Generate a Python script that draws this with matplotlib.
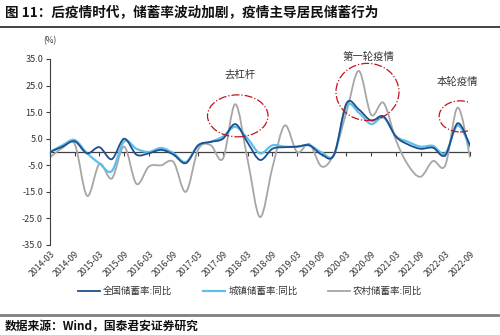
import numpy as np
import matplotlib
matplotlib.use('Agg')
import matplotlib.pyplot as plt
from matplotlib.path import Path
from matplotlib.patches import PathPatch, Ellipse
from matplotlib.lines import Line2D

plt.rcParams['font.family'] = ['Noto Sans CJK SC', 'DejaVu Sans']

# quarterly, 2014-03 .. 2022-09
quarters = ['%d-%02d' % (y, m) for y in range(2014, 2023) for m in (3, 6, 9, 12)][:35]

national = [0, 2, 4, -0.5, 1.8, -2.7, 5, -1, -0.5, 0.8, -1, -4.2, 2.5, 3.8, 5, 10.5,
            3.5, -3, 1.2, 1.8, 2, 2.5, -1, -1, 18.3, 16, 11.8, 13.4, 5.8, 2.8, 1.2, 1.6,
            -1.2, 10.8, 2.5]
urban = [0, 2.5, 4.5, -0.5, -4.3, -7.2, 4, 1.2, 0, 1.5, -0.5, -3.8, 2.5, 3.8, 5.8, 9.5,
         5, -0.5, 2.5, 2, 2, 2.5, -0.2, -1, 17.3, 14.8, 10.5, 13, 6, 3.8, 2, 2.3,
         -0.5, 10, 2]
rural = [-2, 1.5, 3, -16.5, -4.5, -10, 2, -12, -5.5, -5, -3.8, -15, 1, 2.6, -2.5, 18,
         -3, -24.5, -6, 10, 0, 3, -5.5, -0.5, 15, 30.5, 14, 18.5, 4.5, -5, -9.3, -3.4,
         -5, 16.7, -2]

series_names = ['全国储蓄率:同比', '城镇储蓄率:同比', '农村储蓄率:同比']
colors = ['#1F4E8C', '#5BC0EB', '#A6A6A6']


def smooth_path(xs, ys, t=1 / 6):
    # Catmull-Rom style bezier through the points (like Excel smoothed lines)
    pts = np.column_stack([xs, ys]).astype(float)
    n = len(pts)
    verts = [pts[0]]
    codes = [Path.MOVETO]
    for i in range(n - 1):
        p0 = pts[i - 1] if i > 0 else pts[i]
        p1 = pts[i]
        p2 = pts[i + 1]
        p3 = pts[i + 2] if i + 2 < n else pts[i + 1]
        verts += [p1 + (p2 - p0) * t, p2 - (p3 - p1) * t, p2]
        codes += [Path.CURVE4] * 3
    return Path(verts, codes)


fig = plt.figure(figsize=(5, 3.35), dpi=100)
ax = fig.add_axes([0.1, 0.2687, 0.84, 0.5552])

x = np.arange(len(quarters))
data = [national, urban, rural]
widths = [1.3, 1.6, 1.3]
for vals, c, lw, z in zip(data[::-1], colors[::-1], widths[::-1], [2, 3, 4]):
    ax.add_patch(PathPatch(smooth_path(x, vals), fill=False, edgecolor=c, lw=lw,
                           zorder=z, capstyle='round', joinstyle='round'))

ax.set_xlim(0, len(quarters) - 1)
ax.set_ylim(-35, 35)
ax.set_yticks(range(-35, 36, 10))
ax.set_yticklabels(['%.1f' % v for v in range(-35, 36, 10)], fontsize=6.5, color='#333333')
ax.tick_params(axis='y', length=3, width=0.8, color='#404040', pad=2)

for s in ['top', 'right']:
    ax.spines[s].set_visible(False)
ax.spines['left'].set_color('#404040')
ax.spines['left'].set_linewidth(0.8)
ax.spines['bottom'].set_position(('data', 0))
ax.spines['bottom'].set_color('#404040')
ax.spines['bottom'].set_linewidth(0.9)
ax.spines['bottom'].set_zorder(1)

ticks = x[::2]
ax.set_xticks(ticks)
ax.tick_params(axis='x', length=3, width=0.8, color='#404040', labelbottom=False)

sec = ax.secondary_xaxis(0)
sec.set_xticks(ticks)
sec.set_xticklabels(quarters[::2], rotation=45, ha='right', rotation_mode='anchor',
                    fontsize=6.3, color='#333333')
sec.tick_params(length=0, pad=3)
sec.spines['bottom'].set_visible(False)

# annotations
ell_kw = dict(fill=False, edgecolor='#C0141E', lw=0.9, linestyle='-.', zorder=6)
ax.add_patch(Ellipse((15.2, 13.6), 4.9, 15.8, **ell_kw))
ax.add_patch(Ellipse((25.7, 22.6), 5.1, 21.5, **ell_kw))
ax.add_patch(Ellipse((33.2, 13.4), 3.4, 11.7, **ell_kw))
ax.text(15.4, 29, '去杠杆', ha='center', va='center', fontsize=7.5, color='#333333')
ax.text(25.8, 35.8, '第一轮疫情', ha='center', va='center', fontsize=7.5, color='#333333')
ax.text(33.0, 26.4, '本轮疫情', ha='center', va='center', fontsize=7.5, color='#333333')

handles = [Line2D([], [], color=c, lw=lw) for c, lw in zip(colors, widths)]
fig.legend(handles, series_names, loc='center', bbox_to_anchor=(0.5, 0.131), ncol=3,
           frameon=False, fontsize=6.8, handlelength=2.4, columnspacing=3.2,
           handletextpad=0.3, labelcolor='#333333')

fig.text(0.1, 0.878, '(%)', ha='center', va='center', fontsize=6, color='#333333')
fig.text(0.01, 1 - 12 / 335, '图 11：后疫情时代，储蓄率波动加剧，疫情主导居民储蓄行为',
         ha='left', va='center', fontsize=9.8, fontweight='bold', color='#111111')
fig.add_artist(Line2D([0, 1], [1 - 27 / 335] * 2, transform=fig.transFigure,
                      color='#222222', lw=1.2))
fig.add_artist(Line2D([0, 0.995], [1 - 315 / 335] * 2, transform=fig.transFigure,
                      color='#808080', lw=2))
fig.text(0.01, 1 - 327 / 335, '数据来源：Wind，国泰君安证券研究', ha='left', va='center',
         fontsize=8.5, fontweight='bold', color='#111111')

fig.savefig('out.png', dpi=100)
